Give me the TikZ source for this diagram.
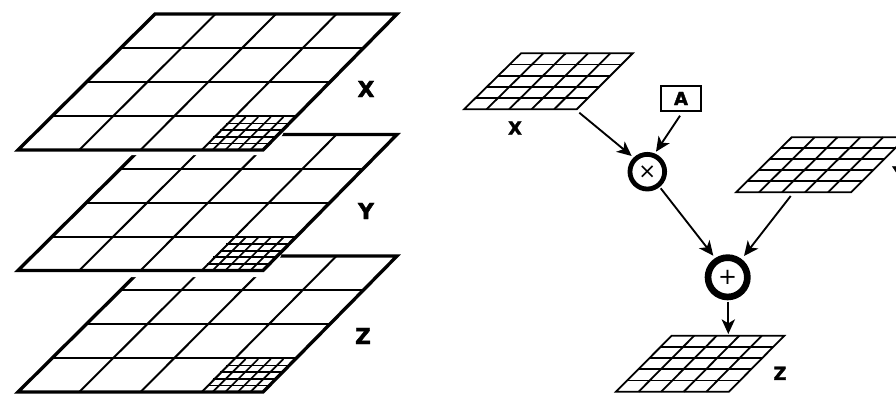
\documentclass[tikz,border=0pt]{standalone}
\usepackage{fontspec}
\setmainfont{DejaVu Sans}
\newfontfamily\heavyfont[FakeBold=2]{DejaVu Sans Bold}
\usetikzlibrary{arrows.meta,calc}
\tikzset{
  x=0.75pt,y=-0.75pt,
  bigframe/.style={line width=2.5pt,line join=miter},
  bigline/.style={line width=1.5pt},
  fineline/.style={line width=1.25pt},
  smallframe/.style={line width=1.35pt,line join=miter},
  blank/.style={fill=white,draw=none},
  biglabel/.style={font=\fontsize{16.5}{18}\heavyfont,inner sep=0pt},
  smalllabel/.style={font=\fontsize{13.5}{15}\heavyfont,inner sep=0pt},
  flowarrow/.style={line width=1.4pt,-{Stealth[length=11pt,width=10pt,inset=3pt]}},
  opnode/.style={circle,draw,fill=white,inner sep=0pt,minimum size=#1},
  box/.style={draw,line width=1.4pt,fill=white,minimum width=30pt,minimum height=19pt,inner sep=0pt}
}
% lattice: bottom-left corner, bottom-right, top-right, top-left, divisions, style
\newcommand{\lattice}[6]{%
  \foreach \k in {1,...,\numexpr#5-1\relax}{%
    \draw[#6] ($(#1)!{\k/#5}!(#4)$) -- ($(#2)!{\k/#5}!(#3)$);
    \draw[#6] ($(#1)!{\k/#5}!(#2)$) -- ($(#4)!{\k/#5}!(#3)$);
  }%
}
% large plane shifted down by #1
\newcommand{\plane}[1]{%
  \begin{scope}[yshift=-#1*0.75pt]
    \coordinate (bl) at (18,150);
    \coordinate (br) at (263,150);
    \coordinate (tr) at (397,14);
    \coordinate (tl) at (155,14);
    \coordinate (mbl) at (200,150);
    \coordinate (mtl) at (233,117);
    \coordinate (mtr) at (296,117);
    \lattice{bl}{br}{tr}{tl}{4}{bigline}
    \lattice{mbl}{br}{mtr}{mtl}{5}{fineline}
    \draw[bigframe] (bl) -- (br) -- (tr) -- (tl) -- cycle;
  \end{scope}%
}
\newcommand{\mesh}[4]{%
  \lattice{#1}{#2}{#3}{#4}{5}{smallframe}
  \draw[smallframe] (#1) -- (#2) -- (#3) -- (#4) -- cycle;
}
\begin{document}
\begin{tikzpicture}
\useasboundingbox (0,0) rectangle (896,394);
\clip (0,0) rectangle (896,394);
\plane{242}
\fill[blank] (0,240) -- (281,240) -- (281,256) -- (266,277) -- (0,277) -- cycle;
\plane{120.5}
\fill[blank] (0,120) -- (283,120) -- (283,134) -- (268,155) -- (0,155) -- cycle;
\plane{0}
\node[biglabel] (lx) at (366,89) {X};
\node[biglabel] (ly) at (366,211) {Y};
\node[biglabel] (lz) at (363,336) {Z};

\coordinate (xbl) at (464,109.3);
\coordinate (xbr) at (576.7,109.3);
\coordinate (xtr) at (632.7,53.3);
\coordinate (xtl) at (521,53.3);
\mesh{xbl}{xbr}{xtr}{xtl}
\coordinate (ybl) at (736,192.3);
\coordinate (ybr) at (851,192.3);
\coordinate (ytr) at (906,137.3);
\coordinate (ytl) at (791.7,137.3);
\mesh{ybl}{ybr}{ytr}{ytl}
\coordinate (zbl) at (616,391.7);
\coordinate (zbr) at (729,391.7);
\coordinate (ztr) at (784.3,335.7);
\coordinate (ztl) at (671.7,335.7);
\mesh{zbl}{zbr}{ztr}{ztl}
\node[smalllabel] (rx) at (515,128) {X};
\node[smalllabel] (ry) at (899,173) {Y};
\node[smalllabel] (rz) at (780,373.3) {Z};
\node[box] (a) at (681,98.5) {\fontsize{13.5}{15}\heavyfont A};
\node[opnode=26pt,line width=3.6pt] (times) at (647.3,171.7) {\fontsize{16}{16}\selectfont\symbol{"00D7}};
\node[opnode=29.5pt,line width=5pt] (plus) at (727.7,277.3) {\fontsize{17}{17}\selectfont +};
\coordinate (xout) at (579.3,112.7);
\coordinate (yout) at (790.7,196);
\coordinate (zin) at (728.3,334);
\coordinate (aout) at (680,115.7);
\coordinate (timesout) at (660.7,188.3);
\coordinate (plusout) at (728.3,301.7);
\draw[flowarrow] (xout) -- (631.7,156);
\draw[flowarrow] (aout) -- (656,151.7);
\draw[flowarrow] (timesout) -- (713.3,255.7);
\draw[flowarrow] (yout) -- (744,256);
\draw[flowarrow] (plusout) -- (zin);
\end{tikzpicture}
\end{document}
